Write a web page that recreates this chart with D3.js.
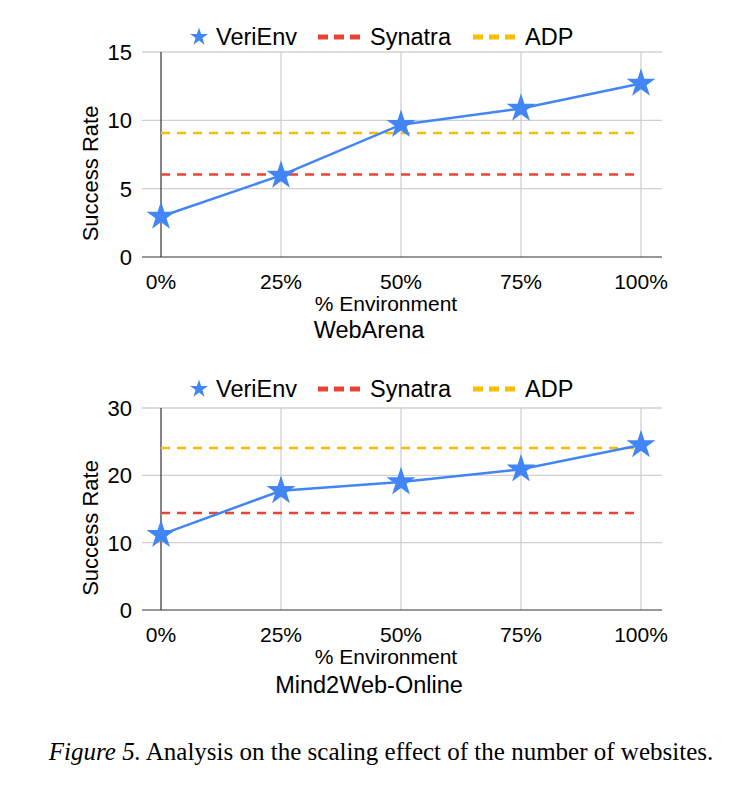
<!DOCTYPE html>
<html>
<head>
<meta charset="utf-8">
<script src="https://cdn.jsdelivr.net/npm/d3@7"></script>
<style>
  body { margin: 0; background: #fff; }
  text { font-family: "Liberation Sans", Arial, sans-serif; fill: #000; }
</style>
</head>
<body>
<div id="chart"></div>
<script>
// data
var categories = ["0%", "25%", "50%", "75%", "100%"];
var webarenaVeriEnv = [2.96, 5.97, 9.68, 10.87, 12.7];
var webarenaSynatra = 6.04;
var webarenaADP = 9.07;
var webarenaTicks = [0, 5, 10, 15];

var mind2webVeriEnv = [11.2, 17.7, 19.0, 20.9, 24.5];
var mind2webSynatra = 14.4;
var mind2webADP = 24.05;
var mind2webTicks = [0, 10, 20, 30];

var seriesNames = ["VeriEnv", "Synatra", "ADP"];
var colours = {VeriEnv: "#4285F4", Synatra: "#EA4335", ADP: "#FBBC04"};

var W = 735, H = 786;

var svg = d3.select("#chart").append("svg")
    .attr("width", W)
    .attr("height", H);

var star = d3.symbol().type(d3.symbolStar);

function drawPanel(legendY, plotTop, plotBottom, veriEnv, synatra, adp, ticks, title, titleOff) {
  var left = 142, right = 662;

  var x = d3.scalePoint().domain(categories).range([161, 641]);
  var y = d3.scaleLinear().domain([0, d3.max(ticks)]).range([plotBottom, plotTop]);

  var g = svg.append("g");

  // horizontal grid
  g.selectAll(".hgrid")
      .data(ticks.slice(1))
    .enter().append("line")
      .attr("x1", left).attr("x2", right)
      .attr("y1", function(d) { return y(d); })
      .attr("y2", function(d) { return y(d); })
      .style("stroke", "#d0d0d0")
      .style("stroke-width", 1.3);

  // vertical grid
  g.selectAll(".vgrid")
      .data(categories.slice(1))
    .enter().append("line")
      .attr("x1", function(d) { return x(d); })
      .attr("x2", function(d) { return x(d); })
      .attr("y1", plotTop).attr("y2", plotBottom)
      .style("stroke", "#d0d0d0")
      .style("stroke-width", 1.3);

  // axis lines
  g.append("line")
      .attr("x1", x(categories[0])).attr("x2", x(categories[0]))
      .attr("y1", plotTop).attr("y2", plotBottom)
      .style("stroke", "#333").style("stroke-width", 1.2);
  g.append("line")
      .attr("x1", left).attr("x2", right)
      .attr("y1", plotBottom).attr("y2", plotBottom)
      .style("stroke", "#333").style("stroke-width", 1.2);

  // y tick labels
  g.selectAll(".ytick")
      .data(ticks)
    .enter().append("text")
      .attr("x", 132)
      .attr("y", function(d) { return y(d); })
      .attr("dy", "0.36em")
      .attr("text-anchor", "end")
      .style("font-size", "22px")
      .text(function(d) { return d; });

  // x tick labels
  g.selectAll(".xtick")
      .data(categories)
    .enter().append("text")
      .attr("x", function(d) { return x(d); })
      .attr("y", plotBottom + 32)
      .attr("text-anchor", "middle")
      .style("font-size", "21px")
      .text(function(d) { return d; });

  // axis titles
  g.append("text")
      .attr("x", 386).attr("y", plotBottom + 54)
      .attr("text-anchor", "middle")
      .style("font-size", "21px")
      .text("% Environment");
  g.append("text")
      .attr("transform", "translate(98," + ((plotTop + plotBottom) / 2 + 19) + ") rotate(-90)")
      .attr("text-anchor", "middle")
      .style("font-size", "22px")
      .text("Success Rate");
  g.append("text")
      .attr("x", 369).attr("y", plotBottom + titleOff)
      .attr("text-anchor", "middle")
      .style("font-size", "23.5px")
      .text(title);

  // baselines
  [["ADP", adp], ["Synatra", synatra]].forEach(function(b) {
    g.append("line")
        .attr("x1", x(categories[0])).attr("x2", x(categories[categories.length - 1]))
        .attr("y1", y(b[1])).attr("y2", y(b[1]))
        .style("stroke", colours[b[0]])
        .style("stroke-width", 2.5)
        .style("stroke-dasharray", "9,7");
  });

  // VeriEnv line
  var line = d3.line()
      .x(function(d, i) { return x(categories[i]); })
      .y(function(d) { return y(d); });

  g.append("path")
      .datum(veriEnv)
      .attr("d", line)
      .style("fill", "none")
      .style("stroke", colours.VeriEnv)
      .style("stroke-width", 2.5);

  g.selectAll(".pt")
      .data(veriEnv)
    .enter().append("path")
      .attr("d", star.size(260))
      .attr("transform", function(d, i) { return "translate(" + x(categories[i]) + "," + y(d) + ")"; })
      .style("fill", colours.VeriEnv);

  // legend
  var lg = g.append("g").attr("transform", "translate(0," + legendY + ")");
  lg.append("path")
      .attr("d", star.size(100))
      .attr("transform", "translate(199,0)")
      .style("fill", colours.VeriEnv);
  lg.append("text").attr("x", 216).attr("y", 0).attr("dy", "0.36em")
      .style("font-size", "23.5px").text(seriesNames[0]);
  [[seriesNames[1], 318], [seriesNames[2], 473]].forEach(function(s) {
    lg.append("line")
        .attr("x1", s[1]).attr("x2", s[1] + 42)
        .attr("y1", 0).attr("y2", 0)
        .style("stroke", colours[s[0]])
        .style("stroke-width", 5)
        .style("stroke-dasharray", "10,6");
    lg.append("text").attr("x", s[1] + 52).attr("y", 0).attr("dy", "0.36em")
        .style("font-size", "23.5px").text(s[0]);
  });
}

drawPanel(37, 52, 257, webarenaVeriEnv, webarenaSynatra, webarenaADP, webarenaTicks, "WebArena", 81);
drawPanel(389, 408, 610, mind2webVeriEnv, mind2webSynatra, mind2webADP, mind2webTicks, "Mind2Web-Online", 83);

// caption
var cap = svg.append("text")
    .attr("x", 381).attr("y", 760)
    .attr("text-anchor", "middle")
    .style("font-family", "'Liberation Serif', 'Times New Roman', serif")
    .style("font-size", "25px");
cap.append("tspan").style("font-style", "italic").text("Figure 5.");
cap.append("tspan").text(" Analysis on the scaling effect of the number of websites.");
</script>
</body>
</html>
